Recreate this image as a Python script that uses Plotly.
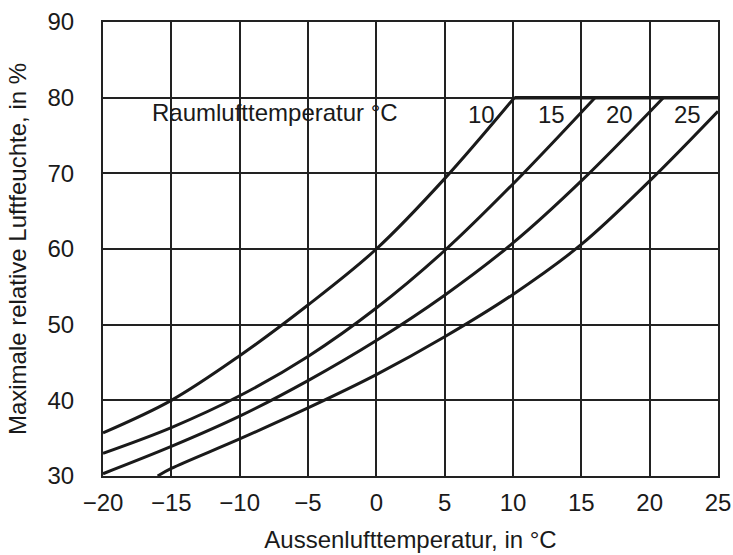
import plotly.graph_objects as go

# Outside air temperature (°C) and maximum relative humidity (%) per room temperature
x_10 = [-20, -15, -10, -5, 0, 5, 10.1]
y_10 = [35.7, 40.0, 45.9, 52.6, 60.0, 69.3, 80.0]

x_15 = [-20, -15, -10, -5, 0, 5, 10, 16.0]
y_15 = [33.0, 36.4, 40.6, 45.8, 52.2, 59.8, 68.6, 80.0]

x_20 = [-20, -15, -10, -5, 0, 5, 10, 15, 21.0]
y_20 = [30.3, 33.9, 37.9, 42.6, 47.9, 53.9, 60.8, 69.0, 80.0]

x_25 = [-16.0, -15, -10, -5, 0, 5, 10, 15, 20, 25]
y_25 = [30.0, 31.0, 34.9, 39.0, 43.4, 48.4, 54.0, 60.6, 69.0, 78.2]

cap_x = [10.1, 25]
cap_y = [80, 80]

room_temps = ["10", "15", "20", "25"]
label_x = [7.7, 12.8, 17.8, 22.8]
label_y = [77.8, 77.8, 77.8, 77.8]

x_ticks = [-20, -15, -10, -5, 0, 5, 10, 15, 20, 25]
y_ticks = [30, 40, 50, 60, 70, 80, 90]

FONT = "Liberation Sans, Arial, sans-serif"
INK = "#1a1a1a"
FS = 24

fig = go.Figure()
for xs, ys, name in [(x_10, y_10, "10"), (x_15, y_15, "15"), (x_20, y_20, "20"), (x_25, y_25, "25")]:
    fig.add_trace(go.Scatter(x=xs, y=ys, mode="lines", name=name,
                             line=dict(color=INK, width=3, shape="spline", smoothing=1.0),
                             showlegend=False, hoverinfo="x+y"))
fig.add_trace(go.Scatter(x=cap_x, y=cap_y, mode="lines", showlegend=False,
                         line=dict(color=INK, width=3.5)))

fig.add_annotation(x=-7.4, y=78.0, text="Raumlufttemperatur °C", showarrow=False,
                   font=dict(family=FONT, size=FS, color=INK))
for t, lx, ly in zip(room_temps, label_x, label_y):
    fig.add_annotation(x=lx, y=ly, text=t, showarrow=False,
                       font=dict(family=FONT, size=FS, color=INK))

axis_common = dict(showgrid=True, gridcolor="#222222", gridwidth=2,
                   showline=True, linecolor="#222222", linewidth=2, mirror=True,
                   zeroline=False, ticks="", tickfont=dict(family=FONT, size=FS, color=INK))

fig.update_xaxes(range=[-20, 25], tickvals=x_ticks, ticklabelstandoff=4,
                 title=dict(text="Aussenlufttemperatur, in °C", standoff=16,
                            font=dict(family=FONT, size=FS, color=INK)),
                 **axis_common)
fig.update_yaxes(range=[30, 90], tickvals=y_ticks, ticklabelstandoff=22,
                 title=dict(text="Maximale relative Luftfeuchte, in %", standoff=14,
                            font=dict(family=FONT, size=FS, color=INK)),
                 **axis_common)

fig.update_layout(width=733, height=555, plot_bgcolor="white", paper_bgcolor="white",
                  margin=dict(l=103, r=15, t=22, b=79, autoexpand=False))

fig.write_html("out.html", config={"displayModeBar": False},
               post_script="document.body.style.margin='0';document.body.style.overflow='hidden';")
